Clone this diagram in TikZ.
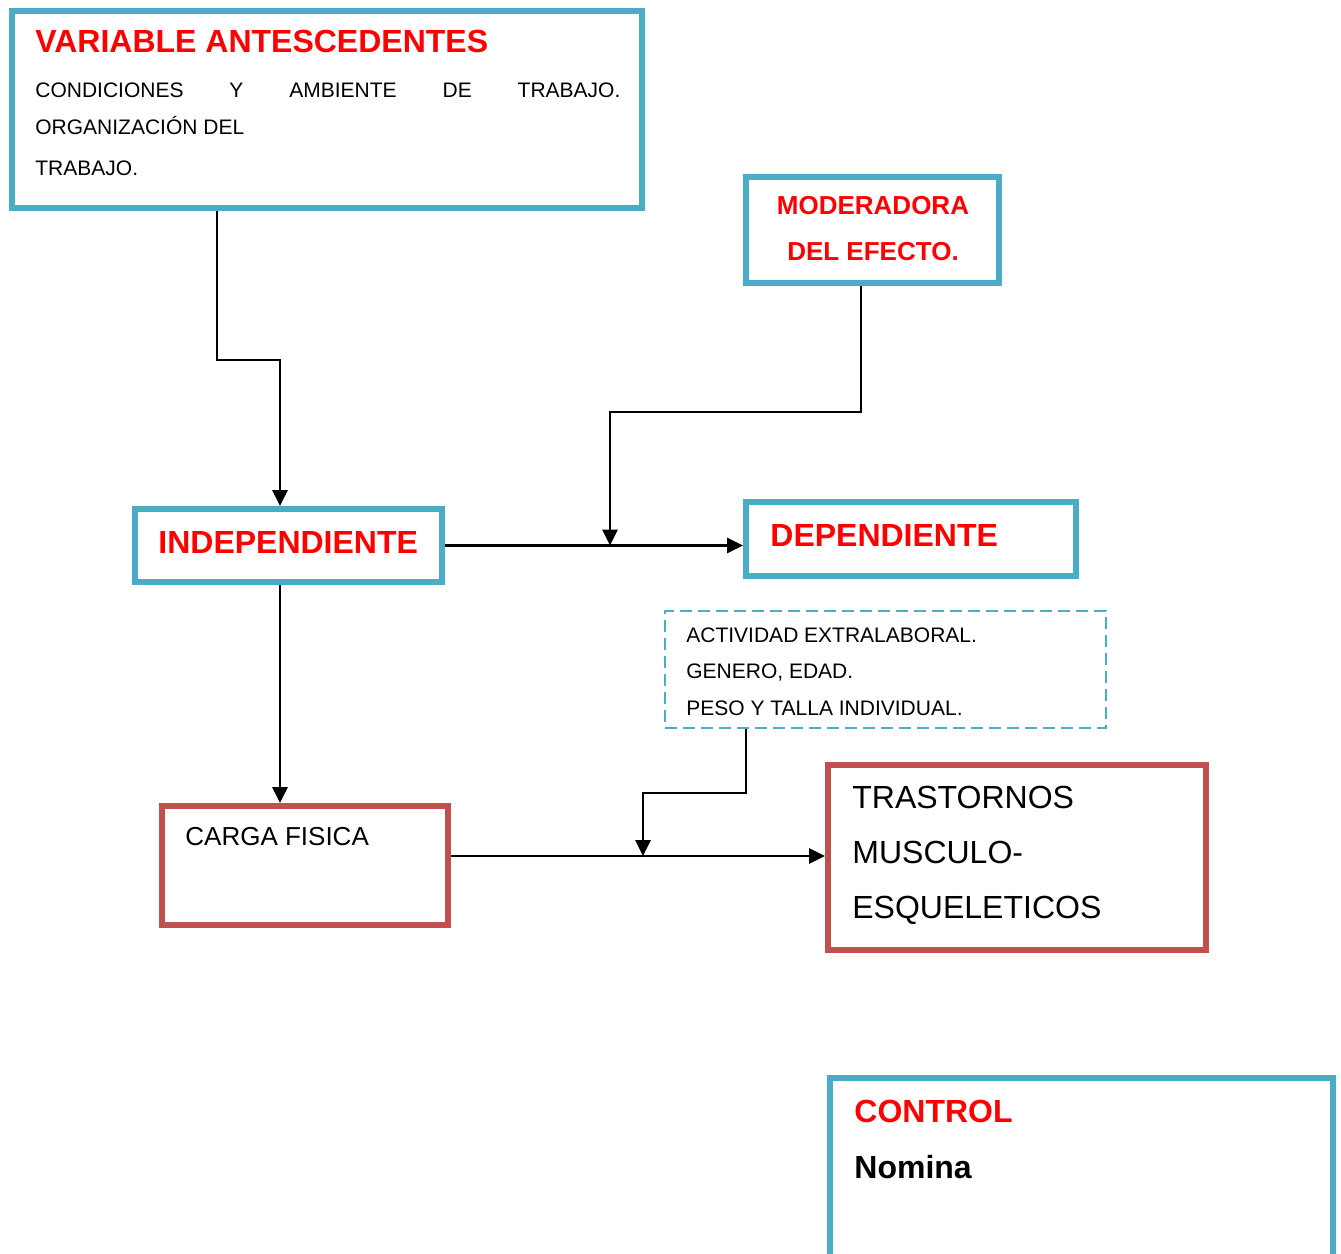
\documentclass[tikz,border=0pt]{standalone}
\usepackage{fontspec}
\setmainfont{Liberation Sans}
\usepackage{xcolor}
\usepackage{tikz}
\usetikzlibrary{arrows.meta}

\definecolor{boxblue}{HTML}{4BACC6}
\definecolor{boxred}{HTML}{C0504D}
\definecolor{titlered}{HTML}{FF0000}

\tikzset{
  bluebox/.style={draw=boxblue, line width=3pt, inner sep=0pt},
  redbox/.style={draw=boxred, line width=3pt, inner sep=0pt},
  dashbox/.style={draw=boxblue, line width=1pt, dash pattern=on 6pt off 3pt, inner sep=0pt},
  link/.style={line width=1.4pt, -{Triangle[length=8pt,width=7.5pt]}},
  txt/.style={anchor=base west, inner sep=0pt},
  title/.style={txt, text=titlered, font=\bfseries\fontsize{16}{19}\selectfont}
}

\begin{document}
\begin{tikzpicture}[x=0.5pt,y=-0.5pt]

\clip (0,0) rectangle (1341,1254);

\node[bluebox, minimum width=315pt, minimum height=98.5pt] (ante) at (327,109.5) {};
\node[bluebox, minimum width=126.5pt, minimum height=53pt] (mod) at (872.5,230) {};
\node[bluebox, minimum width=153.5pt, minimum height=36.5pt] (indep) at (288.5,545.5) {};
\node[bluebox, minimum width=165pt, minimum height=37pt] (dep) at (911,539) {};
\node[dashbox, minimum width=220.5pt, minimum height=58.5pt] (extra) at (885.5,669.5) {};
\node[redbox, minimum width=143pt, minimum height=59.5pt] (carga) at (305,865.5) {};
\node[redbox, minimum width=189pt, minimum height=92.5pt] (tme) at (1017,857.5) {};
\node[bluebox, minimum width=251.5pt, minimum height=111pt] (control) at (1081.5,1189) {};

\coordinate (K1) at (217,360);
\coordinate (K2) at (280,360);
\coordinate (K3) at (861,412);
\coordinate (K4) at (610,412);
\coordinate (K5) at (746,793);
\coordinate (K6) at (643,793);
\coordinate (K7) at (643,856);

\draw[link] (ante.south -| K1) -- (K1) -- (K2) -- (indep.north -| K2);
\draw[link] (indep.east) -- (indep.east -| dep.west);
\draw[link] (mod.south -| K3) -- (K3) -- (K4) -- (K4 |- indep.east);
\draw[link] (indep.south -| K2) -- (carga.north -| K2);
\draw[link] (carga.east |- K7) -- (K7 -| tme.west);
\draw[link] (extra.south -| K5) -- (K5) -- (K6) -- (K7);

\node[title] (anteT) at (35,52) {VARIABLE ANTESCEDENTES};
\node[txt, font=\fontsize{10.5}{12}\selectfont] (anteA) at (35,97)
  {\hbox to 292.5pt{CONDICIONES\hfill Y\hfill AMBIENTE\hfill DE\hfill TRABAJO.}};
\node[txt, font=\fontsize{10.5}{12}\selectfont] (anteB) at (35,134) {ORGANIZACIÓN DEL};
\node[txt, font=\fontsize{10.5}{12}\selectfont] (anteC) at (35,175) {TRABAJO.};

\node[anchor=base, inner sep=0pt, text=titlered, font=\bfseries\fontsize{13}{16}\selectfont] (modA) at (873,214) {MODERADORA};
\node[anchor=base, inner sep=0pt, text=titlered, font=\bfseries\fontsize{13}{16}\selectfont] (modB) at (873,260) {DEL EFECTO.};

\node[title] (indepT) at (158,553) {INDEPENDIENTE};
\node[title] (depT) at (770,546) {DEPENDIENTE};

\node[txt, font=\fontsize{10.5}{12}\selectfont] (extraA) at (686,642) {ACTIVIDAD EXTRALABORAL.};
\node[txt, font=\fontsize{10.5}{12}\selectfont] (extraB) at (686,678) {GENERO, EDAD.};
\node[txt, font=\fontsize{10.5}{12}\selectfont] (extraC) at (686,715) {PESO Y TALLA INDIVIDUAL.};

\node[txt, font=\fontsize{13}{16}\selectfont] (cargaT) at (185,845) {CARGA FISICA};

\node[txt, font=\fontsize{16}{19}\selectfont] (tmeA) at (852,808) {TRASTORNOS};
\node[txt, font=\fontsize{16}{19}\selectfont] (tmeB) at (852,863) {MUSCULO-};
\node[txt, font=\fontsize{16}{19}\selectfont] (tmeC) at (852,918) {ESQUELETICOS};

\node[title] (controlT) at (854,1122) {CONTROL};
\node[txt, font=\bfseries\fontsize{16}{19}\selectfont] (controlA) at (854,1178) {Nomina};

\end{tikzpicture}
\end{document}
